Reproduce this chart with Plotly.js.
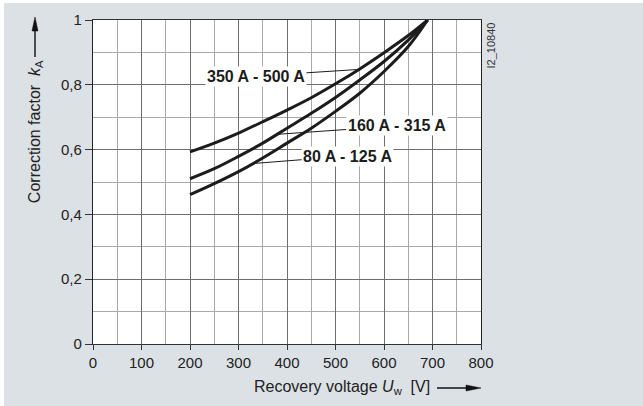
<!DOCTYPE html>
<html>
<head>
<meta charset="utf-8">
<script src="https://cdn.plot.ly/plotly-3.0.1.min.js"></script>
<style>html,body{margin:0;padding:0;background:#dce1e5;}#chart{width:643px;height:406px;}</style>
</head>
<body>
<div id="chart"></div>
<script>
// Data
const voltage = [200, 250, 300, 350, 400, 450, 500, 550, 600, 650, 690];
const k_350_500 = [0.593, 0.620, 0.651, 0.686, 0.722, 0.760, 0.803, 0.849, 0.899, 0.952, 1.0];
const k_160_315 = [0.510, 0.541, 0.579, 0.620, 0.666, 0.712, 0.761, 0.815, 0.872, 0.938, 1.0];
const k_80_125  = [0.461, 0.495, 0.532, 0.574, 0.620, 0.666, 0.718, 0.774, 0.841, 0.918, 1.0];
const seriesNames = ['350 A - 500 A', '160 A - 315 A', '80 A - 125 A'];
const xTicks = [0, 100, 200, 300, 400, 500, 600, 700, 800];
const yTicks = [0, 0.2, 0.4, 0.6, 0.8, 1];
// label anchor points on the curves and label centres
const labelTargetsX = [544, 379, 330];
const labelTargetsY = [0.847, 0.647, 0.557];
const labelCentersX = [336, 626, 525];
const labelCentersY = [0.827, 0.673, 0.580];

const font = 'Liberation Sans, Arial, Helvetica, sans-serif';
const allSeries = [k_350_500, k_160_315, k_80_125];

const traces = allSeries.map((ys, i) => ({
  x: voltage, y: ys, name: seriesNames[i], type: 'scatter', mode: 'lines',
  line: {color: '#1c1c1c', width: 3, shape: 'spline', smoothing: 1},
  hoverinfo: 'skip'
}));

const annotations = seriesNames.map((n, i) => ({
  x: labelTargetsX[i], y: labelTargetsY[i], xref: 'x', yref: 'y',
  ax: labelCentersX[i], ay: labelCentersY[i], axref: 'x', ayref: 'y',
  text: '<b>' + n + '</b>', showarrow: true, arrowhead: 0, arrowwidth: 1, arrowcolor: '#1c1c1c',
  bgcolor: '#ffffff', borderpad: 1,
  font: {family: font, size: 16, color: '#1c1c1c'}
}));

annotations.push(
  {xref: 'paper', yref: 'paper', x: -0.1495, y: 0.657, xanchor: 'center', yanchor: 'middle',
   text: 'Correction factor  <i>k</i><sub>A</sub>', textangle: -90, showarrow: false,
   font: {family: font, size: 16, color: '#222'}},
  {xref: 'paper', yref: 'paper', x: 0.643, y: -0.1358, xanchor: 'center', yanchor: 'middle',
   text: 'Recovery voltage <i>U</i><sub>w</sub>  [V]', showarrow: false,
   font: {family: font, size: 16, color: '#222'}},
  {xref: 'paper', yref: 'paper', x: 1.027, y: 1.0, xanchor: 'center', yanchor: 'top',
   text: 'I2_10840', textangle: -90, showarrow: false,
   font: {family: font, size: 11, color: '#333'}}
);

const layout = {
  width: 643, height: 406,
  margin: {l: 93, r: 162, t: 20, b: 62, pad: 0},
  paper_bgcolor: '#dce1e5', plot_bgcolor: '#ffffff',
  separators: ', ',
  showlegend: false,
  font: {family: font, size: 15, color: '#222'},
  xaxis: {
    range: [0, 800], tickvals: xTicks, ticks: 'outside', ticklen: 5, tickcolor: '#333',
    showgrid: true, gridcolor: '#6e6e6e', gridwidth: 1,
    minor: {dtick: 50, showgrid: true, gridcolor: '#a9a9a9', gridwidth: 1, ticks: ''},
    showline: true, linecolor: '#333', linewidth: 1, mirror: true, zeroline: false,
    tickfont: {family: font, size: 15, color: '#222'}, fixedrange: true
  },
  yaxis: {
    range: [0, 1], tickvals: yTicks, ticks: 'outside', ticklen: 7, tickcolor: '#333',
    showgrid: true, gridcolor: '#6e6e6e', gridwidth: 1,
    minor: {dtick: 0.1, showgrid: true, gridcolor: '#a9a9a9', gridwidth: 1, ticks: ''},
    showline: true, linecolor: '#222', linewidth: 1.2, mirror: true, zeroline: false,
    tickfont: {family: font, size: 15, color: '#222'}, fixedrange: true
  },
  annotations: annotations,
  shapes: [
    {type: 'rect', xref: 'paper', yref: 'paper', x0: -0.25, x1: -0.2294, y0: -0.2, y1: 1.07,
     fillcolor: '#ffffff', line: {width: 0}, layer: 'above'},
    {type: 'rect', xref: 'paper', yref: 'paper', x0: -0.25, x1: 1.45, y0: 1.0525, y1: 1.07,
     fillcolor: '#ffffff', line: {width: 0}, layer: 'above'},
    // y-title arrow
    {type: 'line', xref: 'paper', yref: 'paper', x0: -0.14948, x1: -0.14948, y0: 0.8858, y1: 0.975,
     line: {color: '#111', width: 1.4}, layer: 'above'},
    {type: 'path', xref: 'paper', yref: 'paper',
     path: 'M -0.14948 1.00926 L -0.15722 0.96605 L -0.14175 0.96605 Z',
     fillcolor: '#111', line: {color: '#111', width: 0.5}, layer: 'above'},
    // x-title arrow
    {type: 'line', xref: 'paper', yref: 'paper', x0: 0.8866, x1: 0.97, y0: -0.1358, y1: -0.1358,
     line: {color: '#111', width: 1.4}, layer: 'above'},
    {type: 'path', xref: 'paper', yref: 'paper',
     path: 'M 1.0 -0.1358 L 0.96134 -0.12654 L 0.96134 -0.14506 Z',
     fillcolor: '#111', line: {color: '#111', width: 0.5}, layer: 'above'}
  ]
};

Plotly.newPlot('chart', traces, layout, {staticPlot: true, displayModeBar: false});
</script>
</body>
</html>
